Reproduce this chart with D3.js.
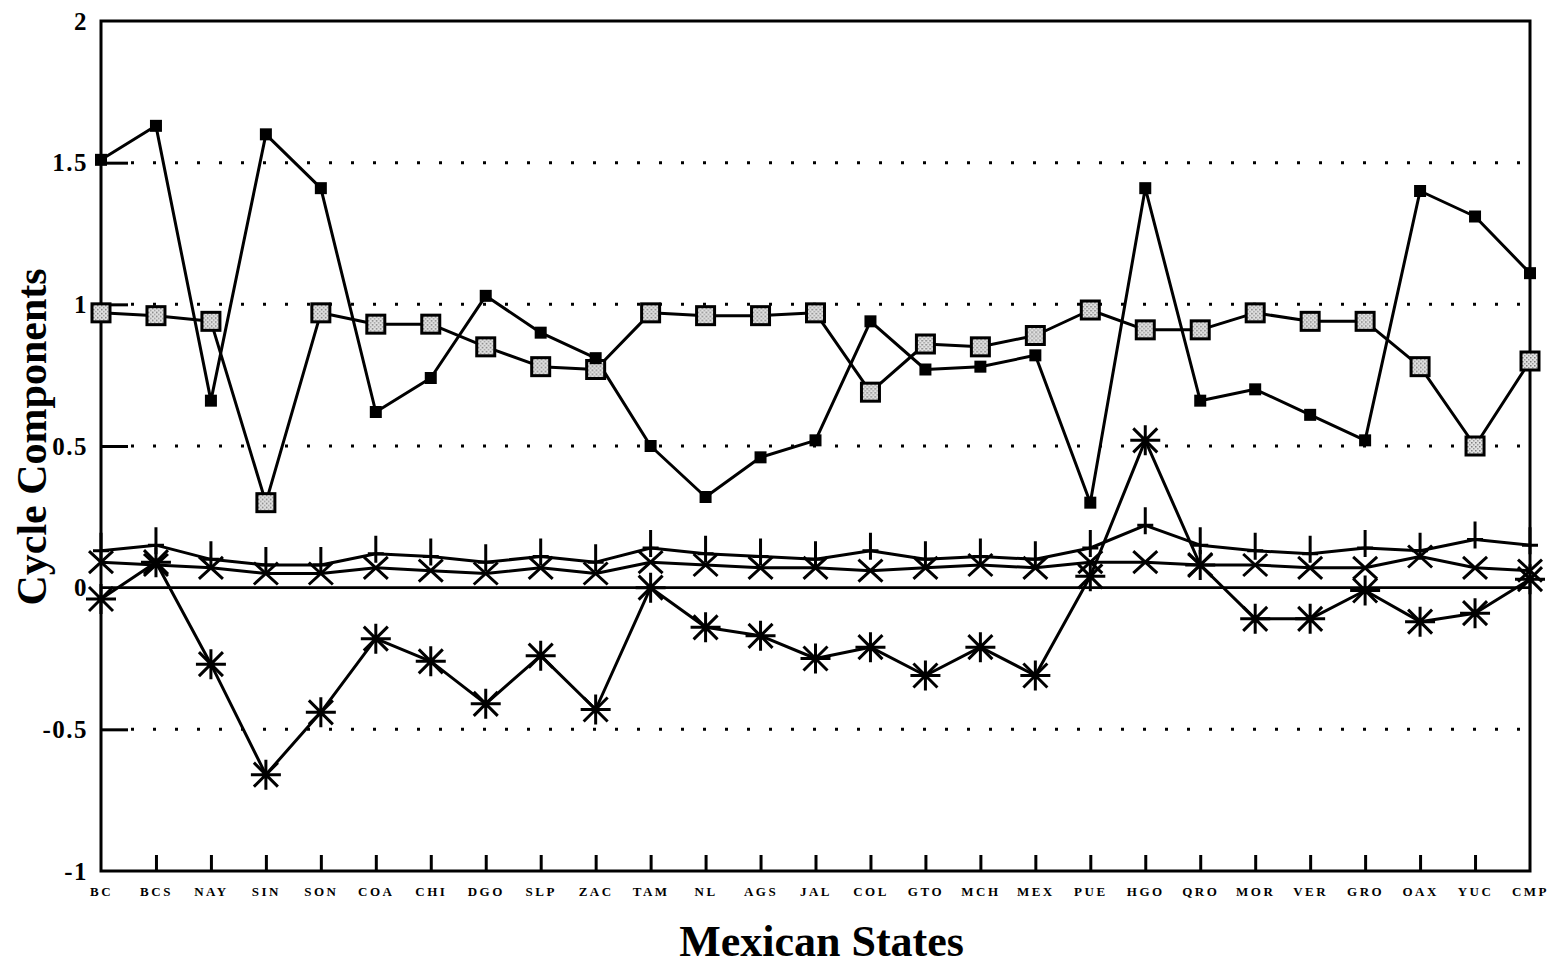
<!DOCTYPE html>
<html>
<head>
<meta charset="utf-8">
<script src="https://cdn.jsdelivr.net/npm/d3@7"></script>
<style>
  body { margin: 0; background: #fff; }
  svg { display: block; }
</style>
</head>
<body>
<div id="chart"></div>
<script>
// states along the x axis
var states = ["BC","BCS","NAY","SIN","SON","COA","CHI","DGO","SLP","ZAC","TAM","NL","AGS","JAL",
              "COL","GTO","MCH","MEX","PUE","HGO","QRO","MOR","VER","GRO","OAX","YUC","CMP"];

// series
var filledSq = [1.51,1.63,0.66,1.60,1.41,0.62,0.74,1.03,0.90,0.81,0.50,0.32,0.46,0.52,
                0.94,0.77,0.78,0.82,0.30,1.41,0.66,0.70,0.61,0.52,1.40,1.31,1.11];
var shadedSq = [0.97,0.96,0.94,0.30,0.97,0.93,0.93,0.85,0.78,0.77,0.97,0.96,0.96,0.97,
                0.69,0.86,0.85,0.89,0.98,0.91,0.91,0.97,0.94,0.94,0.78,0.50,0.80];
var asterisk = [-0.04,0.09,-0.27,-0.66,-0.44,-0.18,-0.26,-0.41,-0.24,-0.43,0.00,-0.14,-0.17,-0.25,
                -0.21,-0.31,-0.21,-0.31,0.04,0.52,0.08,-0.11,-0.11,-0.01,-0.12,-0.09,0.03];
var plusSer  = [0.13,0.15,0.10,0.08,0.08,0.12,0.11,0.09,0.11,0.09,0.14,0.12,0.11,0.10,
                0.13,0.10,0.11,0.10,0.14,0.22,0.15,0.13,0.12,0.14,0.13,0.17,0.15];
var crossSer = [0.09,0.08,0.07,0.05,0.05,0.07,0.06,0.05,0.07,0.05,0.09,0.08,0.07,0.07,
                0.06,0.07,0.08,0.07,0.09,0.09,0.08,0.08,0.07,0.07,0.11,0.07,0.06];

var yTicks = [2,1.5,1,0.5,0,-0.5,-1];
var gridVals = [1.5,1,0.5,-0.5];

var W = 1554, H = 966;
var margin = {top: 21, right: 24, bottom: 95, left: 101};
var width = W - margin.left - margin.right,
    height = H - margin.top - margin.bottom;

var svg = d3.select("#chart").append("svg")
    .attr("width", W).attr("height", H);

// stipple fill for the shaded squares
var defs = svg.append("defs");
var pat = defs.append("pattern").attr("id","stip")
    .attr("width",4).attr("height",4).attr("patternUnits","userSpaceOnUse");
pat.append("rect").attr("width",4).attr("height",4).attr("fill","#e2e2e2");
pat.append("rect").attr("x",0).attr("y",0).attr("width",1.5).attr("height",1.5).attr("fill","#7a7a7a");
pat.append("rect").attr("x",2).attr("y",2).attr("width",1.5).attr("height",1.5).attr("fill","#9a9a9a");

var g = svg.append("g").attr("transform","translate(" + margin.left + "," + margin.top + ")");

var x = d3.scalePoint().domain(states).range([0, width]).padding(0);
var y = d3.scaleLinear().domain([-1, 2]).range([height, 0]);

// dotted grid lines
g.selectAll(".grid").data(gridVals).enter().append("line")
    .attr("class","grid")
    .attr("x1", 30).attr("x2", width)
    .attr("y1", d => y(d)).attr("y2", d => y(d))
    .attr("stroke","#000").attr("stroke-width",3)
    .attr("stroke-dasharray","3,19");

// zero line
g.append("line").attr("x1",0).attr("x2",width)
    .attr("y1",y(0)).attr("y2",y(0))
    .attr("stroke","#000").attr("stroke-width",2.8);

// frame
g.append("rect").attr("x",0).attr("y",0).attr("width",width).attr("height",height)
    .attr("fill","none").attr("stroke","#000").attr("stroke-width",3);

// y axis
var yAxisG = g.append("g").call(d3.axisLeft(y).tickValues(yTicks).tickSize(-27).tickPadding(13)
    .tickFormat(d => d));
yAxisG.select(".domain").remove();
yAxisG.selectAll(".tick line").attr("stroke-width",3)
    .filter(d => d === 2 || d === -1 || d === 0).remove();
yAxisG.selectAll(".tick text")
    .style("font-family","'Liberation Serif', serif").style("font-weight","bold")
    .style("font-size","25px").attr("letter-spacing","1.5px").attr("fill","#000");

// x axis
var xAxisG = g.append("g").attr("transform","translate(0," + height + ")")
    .call(d3.axisBottom(x).tickSize(-16).tickPadding(16));
xAxisG.select(".domain").remove();
xAxisG.selectAll(".tick line").attr("stroke-width",3)
    .filter((d,i) => i === 0 || i === states.length - 1).remove();
xAxisG.selectAll(".tick text")
    .style("font-family","'Liberation Serif', serif").style("font-weight","bold")
    .style("font-size","13px").attr("letter-spacing","2.5px").attr("fill","#000");

// lines
var line = d3.line().x((d,i) => x(states[i])).y(d => y(d));
[filledSq, shadedSq, asterisk, plusSer, crossSer].forEach(function (ser) {
  g.append("path").datum(ser).attr("d", line)
    .attr("fill","none").attr("stroke","#000").attr("stroke-width",3)
    .attr("stroke-linejoin","round");
});

// markers
function pts(ser, cls) {
  return g.selectAll("." + cls).data(ser).enter().append("g")
    .attr("class", cls)
    .attr("transform", (d,i) => "translate(" + x(states[i]) + "," + y(d) + ")");
}

pts(plusSer, "plus").append("path")
    .attr("d","M0,-18V9M-8,0H8")
    .attr("stroke","#000").attr("stroke-width",3).attr("fill","none");

pts(crossSer, "cross").append("path")
    .attr("d","M-12,-11L12,11M-12,11L12,-11")
    .attr("stroke","#000").attr("stroke-width",3).attr("fill","none");

pts(asterisk, "ast").append("path")
    .attr("d","M0,-15V15M-15,0H15M-12,-12L12,12M-12,12L12,-12")
    .attr("stroke","#000").attr("stroke-width",3).attr("fill","none");

pts(shadedSq, "shsq").append("rect")
    .attr("x",-9).attr("y",-9).attr("width",18).attr("height",18)
    .attr("fill","url(#stip)").attr("stroke","#000").attr("stroke-width",3);

pts(filledSq, "fsq").append("rect")
    .attr("x",-6).attr("y",-6).attr("width",12).attr("height",12)
    .attr("fill","#000");

// axis titles
svg.append("text")
    .attr("x", margin.left + width/2 + 6).attr("y", 956)
    .attr("text-anchor","middle")
    .style("font-family","'Liberation Serif', serif").style("font-weight","bold")
    .style("font-size","44px").text("Mexican States");

svg.append("text")
    .attr("transform","translate(46," + 437 + ") rotate(-90)")
    .attr("text-anchor","middle")
    .style("font-family","'Liberation Serif', serif").style("font-weight","bold")
    .style("font-size","42px").text("Cycle Components");
</script>
</body>
</html>
